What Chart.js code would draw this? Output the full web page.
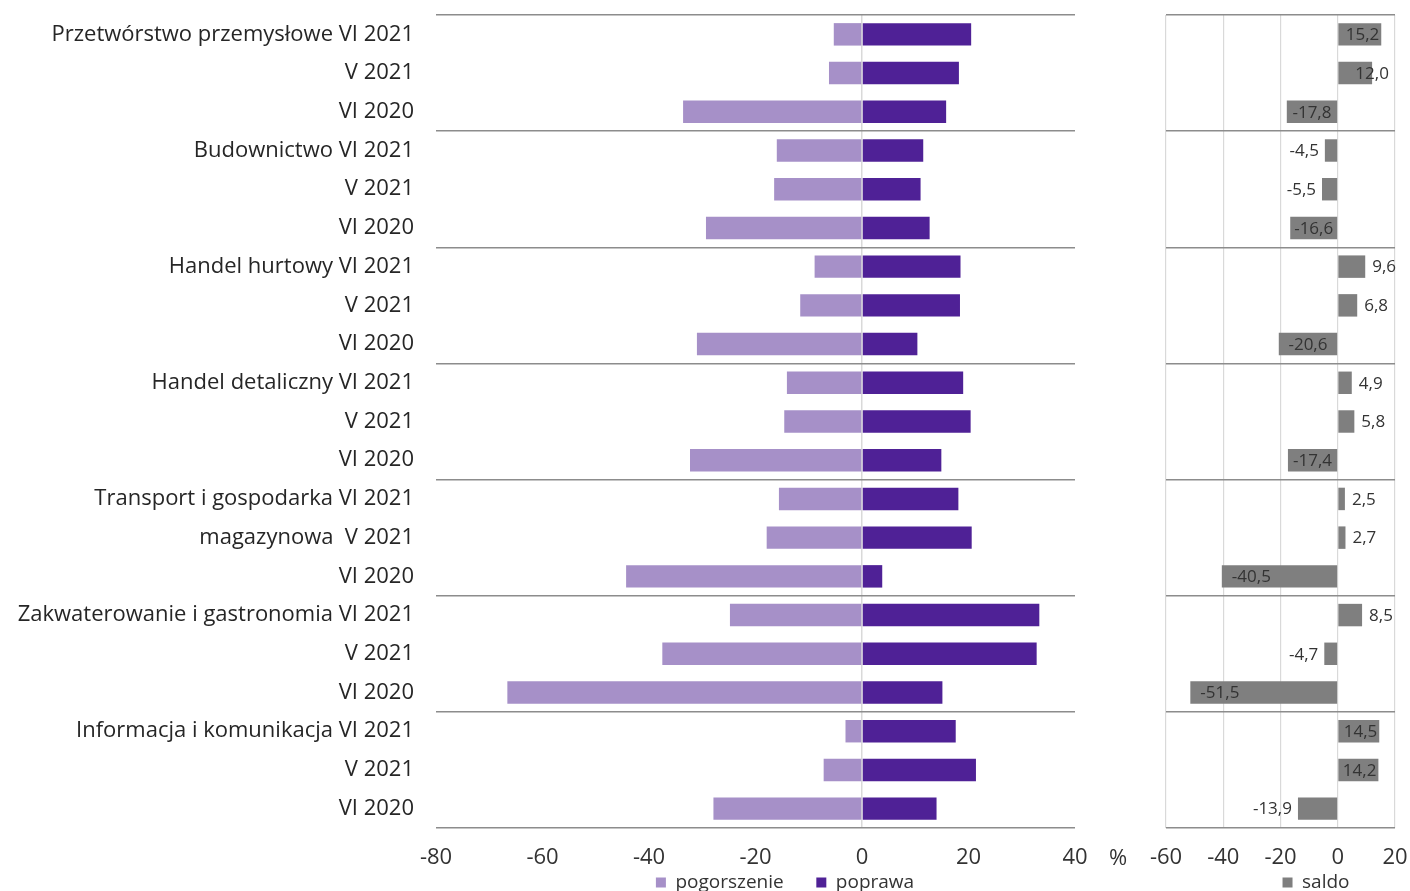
<!DOCTYPE html>
<html>
<head>
<meta charset="utf-8">
<script src="https://cdn.jsdelivr.net/npm/chart.js@4"></script>
<style>
  body { margin: 0; background: #fff; overflow: hidden; width: 1410px; height: 891px; position: relative; }
  #left_box { position: absolute; left: 0; top: 0; width: 1570px; height: 902px; }
  #right_box { position: absolute; left: 1140px; top: 0; width: 352px; height: 902px; }
  #pct { position: absolute; left: 1109px; top: 841px; font: 22px "Open Sans", sans-serif; color: #333; }
</style>
</head>
<body>
<div id="left_box"><canvas id="left_canvas"></canvas></div>
<div id="right_box"><canvas id="right_canvas"></canvas></div>
<div id="pct">%</div>
<script>
const categories = [
  "Przetwórstwo przemysłowe VI 2021", "V 2021", "VI 2020",
  "Budownictwo VI 2021", "V 2021", "VI 2020",
  "Handel hurtowy VI 2021", "V 2021", "VI 2020",
  "Handel detaliczny VI 2021", "V 2021", "VI 2020",
  "Transport i gospodarka VI 2021", "magazynowa  V 2021", "VI 2020",
  "Zakwaterowanie i gastronomia VI 2021", "V 2021", "VI 2020",
  "Informacja i komunikacja VI 2021", "V 2021", "VI 2020"
]

const pogorszenie = [
  -5.3, -6.2, -33.6,
  -16.0, -16.5, -29.3,
  -8.9, -11.6, -31.0,
  -14.1, -14.6, -32.3,
  -15.6, -17.9, -44.3,
  -24.8, -37.5, -66.6,
  -3.1, -7.2, -27.9
]

const poprawa = [
  20.5, 18.2, 15.8,
  11.5, 11.0, 12.7,
  18.5, 18.4, 10.4,
  19.0, 20.4, 14.9,
  18.1, 20.6, 3.8,
  33.3, 32.8, 15.1,
  17.6, 21.4, 14.0
]

const saldo = [
  15.2, 12.0, -17.8,
  -4.5, -5.5, -16.6,
  9.6, 6.8, -20.6,
  4.9, 5.8, -17.4,
  2.5, 2.7, -40.5,
  8.5, -4.7, -51.5,
  14.5, 14.2, -13.9
]

const left_ticks = [-80, -60, -40, -20, 0, 20, 40]
const right_ticks = [-60, -40, -20, 0, 20]

Chart.defaults.font.family = "'Open Sans', sans-serif";
Chart.defaults.color = "#333";
Chart.defaults.animation = false;

const SEP = "#8c8c8c";
const CLEAR = "rgba(0,0,0,0)";

// every third boundary (and the bottom one) gets a separator line
function separator(ctx) {
  if (ctx.type !== "tick" || ctx.index % 3 === 0) return SEP;
  return CLEAR;
}

function legend_opts() {
  return {
    position: "bottom",
    labels: {
      boxWidth: 10, boxHeight: 10, padding: 3, font: { size: 19 }, color: "#333",
      // legend padding also sets its height, so item gaps are made with spaces
      generateLabels: (chart) => {
        const items = Chart.defaults.plugins.legend.labels.generateLabels(chart);
        items.forEach((it, i) => { if (i < items.length - 1) it.text += "      " });
        return items;
      },
    },
  };
}

function fit_x(s) {
  s.height = 42;
  s.paddingLeft = 0;
  s.paddingRight = 0;
}

function fit_y(width) {
  return (s) => {
    s.width = width;
    s.paddingTop = 0;
    s.paddingBottom = 0;
  };
}

// empty axis on the right: keeps the plot narrow while the legend stays centred on the canvas
function spacer(width) {
  return {
    axis: "y",
    type: "category",
    position: "right",
    grid: { display: false },
    border: { display: false },
    ticks: { display: false },
    afterFit: fit_y(width),
  };
}

var left_chart = new Chart(document.getElementById("left_canvas"), {
  type: "bar",
  data: {
    labels: categories,
    datasets: [
      { label: "pogorszenie", data: pogorszenie, backgroundColor: "#a690c8", stack: "s", yAxisID: "y" },
      { label: "poprawa", data: poprawa, backgroundColor: "#4f2196", stack: "s", yAxisID: "y" },
    ],
  },
  options: {
    indexAxis: "y",
    responsive: true,
    maintainAspectRatio: false,
    barPercentage: 0.58,
    categoryPercentage: 1,
    layout: { padding: { top: 15, right: 0, left: 0, bottom: 0 } },
    plugins: { legend: legend_opts(), tooltip: { enabled: false } },
    scales: {
      x: {
        stacked: true,
        min: -80, max: 40,
        afterBuildTicks: (s) => { s.ticks = left_ticks.map(v => ({ value: v })) },
        afterFit: fit_x,
        grid: {
          drawTicks: false,
          color: (c) => (c.tick && c.tick.value === 0) ? "#d9d9d9" : CLEAR,
          lineWidth: 1.5,
        },
        border: { display: false },
        ticks: { padding: 17, font: { size: 22 }, color: "#333" },
      },
      y: {
        stacked: true,
        afterFit: fit_y(436),
        grid: { offset: true, drawTicks: false, color: separator, lineWidth: 1.5 },
        border: { display: false },
        ticks: { padding: 22, font: { size: 22 }, color: "#262626", autoSkip: false },
      },
      pad: spacer(495),
    },
  },
});

// value labels next to / inside the saldo bars
const saldo_labels = {
  id: "saldo_labels",
  afterDatasetsDraw(chart) {
    const ctx = chart.ctx;
    const meta = chart.getDatasetMeta(0);
    ctx.save();
    ctx.font = "17px 'Open Sans', sans-serif";
    ctx.fillStyle = "#333";
    ctx.textBaseline = "middle";
    ctx.textAlign = "left";
    meta.data.forEach((bar, i) => {
      const v = saldo[i];
      const txt = v.toFixed(1).replace(".", ",");
      const w = ctx.measureText(txt).width;
      let x;
      if (v >= 13) {
        x = bar.x - w - 2;
      } else if (v >= 11) {
        x = bar.x - w / 2;
      } else if (v >= 0) {
        x = bar.x + 7;
      } else if (v <= -30) {
        x = bar.x + 10;
      } else if (v <= -15) {
        x = (bar.x + bar.base) / 2 - w / 2;
      } else {
        x = bar.x - w - 6;
      }
      ctx.fillText(txt, x, bar.y + 1);
    });
    ctx.restore();
  },
};

var right_chart = new Chart(document.getElementById("right_canvas"), {
  type: "bar",
  data: {
    labels: categories,
    datasets: [
      { label: "saldo", data: saldo, backgroundColor: "#7f7f7f", yAxisID: "y" },
    ],
  },
  options: {
    indexAxis: "y",
    responsive: true,
    maintainAspectRatio: false,
    barPercentage: 0.58,
    categoryPercentage: 1,
    layout: { padding: { top: 15, right: 0, left: 0, bottom: 0 } },
    plugins: { legend: legend_opts(), tooltip: { enabled: false } },
    scales: {
      x: {
        min: -60, max: 20,
        afterBuildTicks: (s) => { s.ticks = right_ticks.map(v => ({ value: v })) },
        afterFit: fit_x,
        grid: { drawTicks: false, color: "#d9d9d9", lineWidth: 1.2 },
        border: { display: false },
        ticks: { padding: 17, font: { size: 22 }, color: "#333" },
      },
      y: {
        afterFit: fit_y(26),
        grid: { offset: true, drawTicks: false, color: separator, lineWidth: 1.5 },
        border: { display: false },
        ticks: { display: false },
      },
      pad: spacer(97),
    },
  },
  plugins: [saldo_labels],
});
</script>
</body>
</html>
